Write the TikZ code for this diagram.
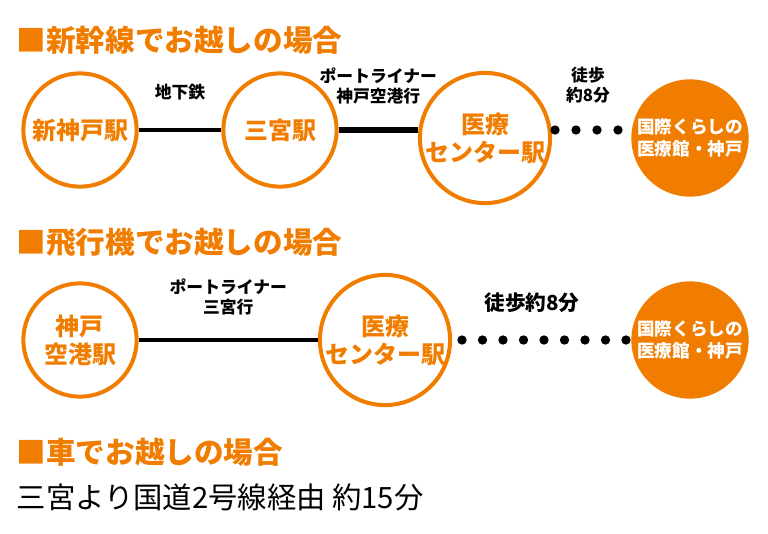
\documentclass[tikz,border=0pt]{standalone}
\usepackage{fontspec}
\setmainfont{Noto Sans CJK JP}
\usepackage{tikz}
\usetikzlibrary{positioning}
\definecolor{accent}{HTML}{F07D00}
\tikzset{
  head/.style={anchor=west,text=accent,font=\fontsize{22.2}{25}\selectfont\bfseries},
  stn/.style={circle,draw=accent,line width=3pt,minimum size=85pt,inner sep=0pt,align=center,text=accent,font=\fontsize{18}{21}\selectfont\bfseries},
  goal/.style={circle,fill=accent,minimum size=88pt,inner sep=0pt,align=center,text=white,font=\fontsize{13.2}{16}\selectfont\bfseries},
  lbl/.style={align=center,font=\fontsize{12.6}{15}\selectfont\bfseries},
  dot/.style={circle,fill=black,minimum size=7pt,inner sep=0pt}
}
\begin{document}
\begin{tikzpicture}[x=0.75pt,y=-0.75pt]
\useasboundingbox (0,0) rectangle (768,533);
%\tikzstyle{every node}=[draw]

% shinkansen
\node[head] (h1) at (12,40) {■新幹線でお越しの場合};
\node[stn] (s1) at (80,130) {新神戸駅};
\node[stn] (s2) at (280,130) {三宮駅};
\node[stn] (s3) at (485,138) {医療\\センター駅};
\node[goal] (g1) at (690,138) {国際くらしの\\医療館・神戸};
\draw[line width=2.5pt] (s1) -- (s2) node[lbl,midway,above=18pt] {地下鉄};
\draw[line width=4pt] (s2.east) -- (s2.east -| s3.west) node[lbl,midway,above=14pt] {ポートライナー\\神戸空港行};
\foreach \i in {0,...,3}
  \node[dot] (d1\i) at (555+\i*21,130) {};
\node[lbl] (w1) at (588,85) {徒歩\\約8分};

% airplane
\node[head] (h2) at (12,242) {■飛行機でお越しの場合};
\node[stn] (a1) at (80,340) {神戸\\空港駅};
\node[stn] (a2) at (385,340) {医療\\センター駅};
\node[goal] (g2) at (690,340) {国際くらしの\\医療館・神戸};
\draw[line width=2.5pt] (a1) -- (a2) node[lbl,midway,above=14pt] {ポートライナー\\三宮行};
\foreach \i in {0,...,8}
  \node[dot] (d2\i) at (462+\i*20.5,340) {};
\node[lbl,font=\fontsize{15.5}{18}\selectfont\bfseries] (w2) at (532,303) {徒歩約8分};

% car
\node[head] (h3) at (12,452) {■車でお越しの場合};
\node[anchor=west,font=\fontsize{22}{25}\selectfont] (c1) at (12,497) {三宮より国道2号線経由 約15分};
\end{tikzpicture}
\end{document}
